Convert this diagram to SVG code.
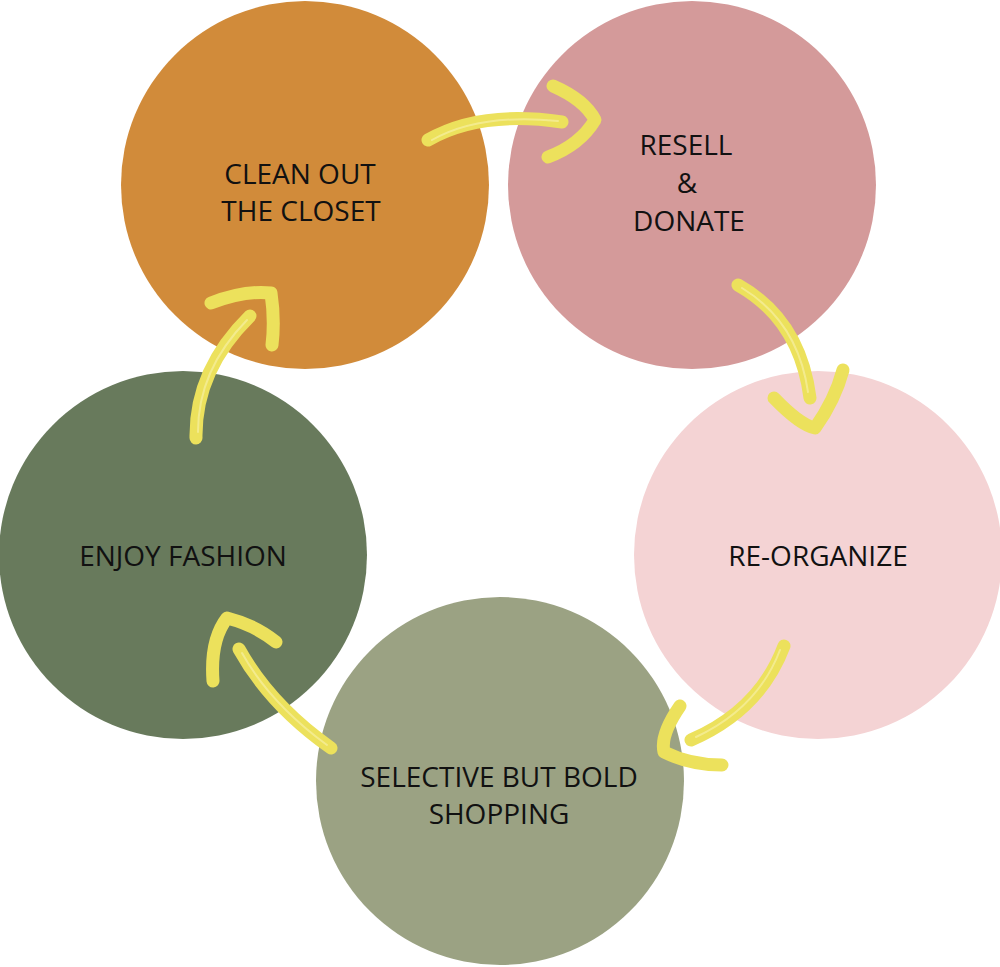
<svg xmlns="http://www.w3.org/2000/svg" width="1000" height="967" viewBox="0 0 1000 967">
<style>
.lbl{font-family:"Open Sans","Liberation Sans",sans-serif;font-size:28px;fill:#111111;text-anchor:middle}
.arw{fill:none;stroke:#ECE15C;stroke-width:13;stroke-linecap:round;stroke-linejoin:round}
.hl{fill:none;stroke:#F5EE9A;stroke-width:2;stroke-linecap:round;opacity:0.8}
</style>
<rect width="1000" height="967" fill="#ffffff"/>
<g id="clean"><circle cx="305" cy="185" r="184" fill="#D18B3A"/>
<text class="lbl" x="300" y="184">CLEAN OUT</text><text class="lbl" x="301" y="221">THE CLOSET</text></g>
<g id="resell"><circle cx="692" cy="185" r="184" fill="#D49A9A"/>
<text class="lbl" x="686" y="155">RESELL</text><text class="lbl" x="687" y="193">&amp;</text><text class="lbl" x="689" y="231">DONATE</text></g>
<g id="reorganize"><circle cx="818" cy="555" r="184" fill="#F4D3D4"/>
<text class="lbl" x="818" y="566">RE-ORGANIZE</text></g>
<g id="selective"><circle cx="500" cy="781" r="184" fill="#9BA283"/>
<text class="lbl" x="499" y="787">SELECTIVE BUT BOLD</text><text class="lbl" x="499" y="824">SHOPPING</text></g>
<g id="enjoy"><circle cx="183" cy="555" r="184" fill="#687A5C"/>
<text class="lbl" x="183" y="566">ENJOY FASHION</text></g>
<g id="connectors">
<path class="arw" d="M428,140 Q480,110 562,122"/>
<path class="arw" d="M553,86 Q585,100 595,120 Q580,145 548,157"/>
<path class="arw" d="M738,285 Q800,320 810,398"/>
<path class="arw" d="M774,398 Q800,425 815,428 Q835,400 843,370"/>
<path class="arw" d="M784,646 Q760,710 691,740"/>
<path class="arw" d="M680,706 Q660,735 664,752 Q690,765 722,765"/>
<path class="arw" d="M331,748 Q270,705 239,649"/>
<path class="arw" d="M213,681 Q210,640 227,618 Q255,625 276,642"/>
<path class="arw" d="M196,438 Q195,370 250,316"/>
<path class="arw" d="M211,303 Q245,290 271,293 Q275,320 272,345"/>
<path class="hl" d="M432,140 Q480,113 558,121"/>
<path class="hl" d="M742,288 Q798,322 808,392"/>
<path class="hl" d="M780,650 Q758,708 696,737"/>
<path class="hl" d="M327,745 Q270,703 242,653"/>
<path class="hl" d="M198,432 Q198,370 247,320"/>
</g>
</svg>
